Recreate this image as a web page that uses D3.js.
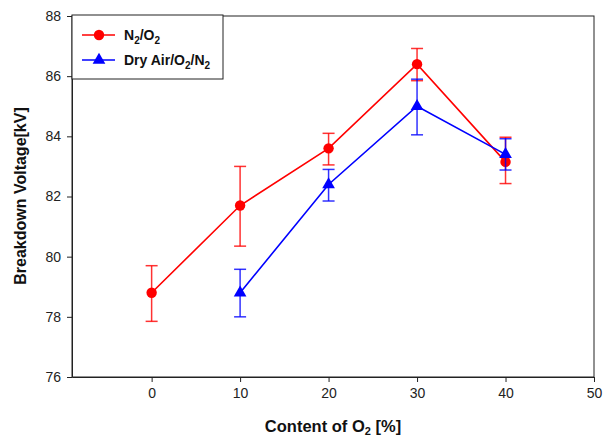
<!DOCTYPE html>
<html><head><meta charset="utf-8">
<script src="https://cdn.jsdelivr.net/npm/d3@7"></script>
<style>body{margin:0;background:#fff}svg{display:block}</style>
</head><body>
<svg id="c" width="612" height="437"></svg>
<script>
const xTicks = [0, 10, 20, 30, 40, 50];
const yTicks = [76, 78, 80, 82, 84, 86, 88];
const xValsN2 = [0, 10, 20, 30, 40];
const n2Mean = [78.8, 81.7, 83.6, 86.4, 83.15];
const n2Lo = [77.85, 80.35, 83.05, 85.85, 82.43];
const n2Hi = [79.7, 83.0, 84.1, 86.92, 83.97];
const xValsAir = [10, 20, 30, 40];
const airMean = [78.8, 82.4, 85.0, 83.4];
const airLo = [78.0, 81.85, 84.05, 82.88];
const airHi = [79.58, 82.9, 85.9, 83.92];

const svg = d3.select("#c");
const L = 72, R = 594, T = 16, B = 377;
const x = d3.scaleLinear().domain([-9, 50]).range([L, R]);
const y = d3.scaleLinear().domain([76, 88]).range([B, T]);
const font = "Arial, 'Liberation Sans', sans-serif";

svg.append("rect").attr("x", L).attr("y", T).attr("width", R - L).attr("height", B - T)
  .attr("fill", "none").attr("stroke", "#222").attr("stroke-width", 1);

const xa = svg.append("g").attr("transform", `translate(0,${B})`)
  .call(d3.axisBottom(x).tickValues(xTicks).tickSize(5).tickPadding(6).tickSizeOuter(0));
const ya = svg.append("g").attr("transform", `translate(${L},0)`)
  .call(d3.axisLeft(y).tickValues(yTicks).tickSize(5).tickPadding(6).tickSizeOuter(0));
[xa, ya].forEach(a => {
  a.select(".domain").attr("stroke", "#222");
  a.selectAll(".tick line").attr("stroke", "#222");
  a.selectAll("text").attr("font-family", font).attr("font-size", 14).attr("fill", "#222");
});

function series(xs, m, lo, hi, color, shape) {
  const g = svg.append("g");
  g.append("path").datum(xs.map((d, i) => [d, m[i]]))
    .attr("d", d3.line().x(d => x(d[0])).y(d => y(d[1])))
    .attr("fill", "none").attr("stroke", color).attr("stroke-width", 1.6);
  xs.forEach((d, i) => {
    const cx = x(d);
    g.append("line").attr("x1", cx).attr("x2", cx).attr("y1", y(lo[i])).attr("y2", y(hi[i]))
      .attr("stroke", color).attr("stroke-width", 1.5).attr("opacity", 0.8);
    [lo[i], hi[i]].forEach(v => g.append("line").attr("x1", cx - 6).attr("x2", cx + 6)
      .attr("y1", y(v)).attr("y2", y(v)).attr("stroke", color).attr("stroke-width", 1.5).attr("opacity", 0.8));
  });
  const sym = d3.symbol().type(shape).size(shape === d3.symbolCircle ? 85 : 70);
  xs.forEach((d, i) => {
    g.append("path").attr("d", sym()).attr("fill", color)
      .attr("transform", `translate(${x(d)},${y(m[i])})`);
  });
}
series(xValsN2, n2Mean, n2Lo, n2Hi, "#ff0000", d3.symbolCircle);
series(xValsAir, airMean, airLo, airHi, "#0000ff", d3.symbolTriangle);

const lg = svg.append("g");
lg.append("rect").attr("x", L).attr("y", 15).attr("width", 151).attr("height", 64)
  .attr("fill", "#fff").attr("stroke", "#222").attr("stroke-width", 1);
const legendItems = [
  {color: "#ff0000", shape: d3.symbolCircle, yy: 35, parts: [["N", 0], ["2", 1], ["/O", 0], ["2", 1]]},
  {color: "#0000ff", shape: d3.symbolTriangle, yy: 60, parts: [["Dry Air/O", 0], ["2", 1], ["/N", 0], ["2", 1]]}
];
legendItems.forEach(it => {
  lg.append("line").attr("x1", 82).attr("x2", 115).attr("y1", it.yy).attr("y2", it.yy)
    .attr("stroke", it.color).attr("stroke-width", 1.6);
  lg.append("path").attr("d", d3.symbol().type(it.shape).size(it.shape === d3.symbolCircle ? 85 : 70)())
    .attr("fill", it.color).attr("transform", `translate(99,${it.yy})`);
  const t = lg.append("text").attr("x", 124).attr("y", it.yy + 5).attr("font-family", font)
    .attr("font-weight", "bold").attr("font-size", 14).attr("fill", "#111");
  it.parts.forEach((p, k) => {
    const s = t.append("tspan").text(p[0]);
    if (p[1]) s.attr("font-size", 10).attr("dy", 4);
    else s.attr("dy", k > 0 ? -4 : 0);
  });
});

const xt = svg.append("text").attr("x", 333).attr("y", 432).attr("text-anchor", "middle")
  .attr("font-family", font).attr("font-weight", "bold").attr("font-size", 16.5).attr("fill", "#111");
xt.append("tspan").text("Content of O");
xt.append("tspan").text("2").attr("font-size", 11).attr("dy", 3);
xt.append("tspan").text(" [%]").attr("dy", -3);

svg.append("text").attr("transform", "translate(26,196) rotate(-90)").attr("text-anchor", "middle")
  .attr("font-family", font).attr("font-weight", "bold").attr("font-size", 16).attr("fill", "#111")
  .text("Breakdown Voltage[kV]");
</script>
</body></html>
